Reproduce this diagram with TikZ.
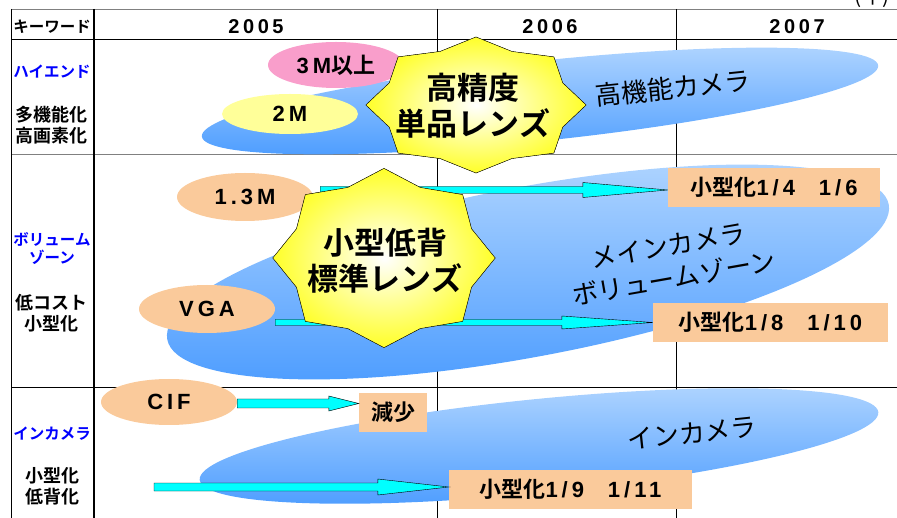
\documentclass[tikz,border=0pt]{standalone}
\usepackage{fontspec}
\setmainfont{Noto Sans CJK JP}[BoldFont={Noto Sans CJK JP Bold}]
\newfontfamily\lat{Liberation Sans}[LetterSpace=18]
\usetikzlibrary{shapes.geometric,calc}

\definecolor{peach}{RGB}{250,202,155}
\definecolor{rosepink}{RGB}{249,158,203}
\definecolor{paleyellow}{RGB}{255,255,153}
\definecolor{bandtop}{RGB}{178,214,255}
\definecolor{bandbot}{RGB}{74,155,255}
\definecolor{burstyellow}{RGB}{255,255,40}
\definecolor{keyblue}{RGB}{0,0,255}
\definecolor{arrowcyan}{RGB}{0,255,255}

\newcommand\num[1]{{\lat #1}}
% from, to, shaft half, head half, head length
\newcommand\blockarrow[5]{%
  \filldraw[fatarrow] let \p1=(#1), \p2=(#2) in
    (\x1,{\y2+#3}) -- ({\x2-#5},{\y2+#3}) -- ({\x2-#5},{\y2+#4}) -- (\p2)
    -- ({\x2-#5},{\y2-#4}) -- ({\x2-#5},{\y2-#3}) -- (\x1,{\y2-#3}) -- cycle;}

\tikzset{
  keyword/.style={font=\bfseries\fontsize{18}{21}\selectfont, align=center},
  kana/.style={keyword, font=\bfseries\fontsize{15.5}{18}\selectfont},
  keyblue/.style={kana, text=keyblue},
  year/.style={font=\bfseries\fontsize{20}{22}\selectfont},
  blueband/.style={ellipse, inner sep=0pt, top color=bandtop, bottom color=bandbot},
  bandtext/.style={font=\fontsize{26}{33}\selectfont, align=center},
  blob/.style={ellipse, inner sep=0pt, minimum width=136pt, font=\bfseries\fontsize{22}{24}\selectfont},
  ratebox/.style={rectangle, fill=peach, inner sep=0pt, minimum height=39pt, font=\bfseries\fontsize{22}{24}\selectfont},
  burst/.style={draw=black, thin, inner color=white, outer color=burstyellow},
  burstlabel/.style={font=\bfseries\fontsize{31}{36}\selectfont, align=center},
  fatarrow/.style={fill=arrowcyan, draw=black, thin},
}

\begin{document}
\begin{tikzpicture}[x=1pt,y=-1pt]
\useasboundingbox (0,0) rectangle (897,518);
\clip (0,0) rectangle (897,518);

% table
\draw[gray] (11,9) -- (897,9);
\draw (11,39) -- (897,39);
\draw[gray,line width=1pt] (11,155) -- (897,155);
\draw (11,387) -- (897,387);
\draw (11,9) -- (11,518);
\draw[line width=1.2pt] (94,9) -- (94,518);
\draw (437,9) -- (437,518);
\draw (676,9) -- (676,518);

\node[font=\fontsize{21}{22}\selectfont] (unit) at (872,-3) {(年)};

\node[kana] (kw) at (52,27) {キーワード};
\node[year] (y5) at (256,27) {\num{2005}};
\node[year] (y6) at (550,27) {\num{2006}};
\node[year] (y7) at (797,27) {\num{2007}};

\node[keyblue] (k1) at (52,72) {ハイエンド};
\node[keyword] (k1b) at (52,125) {多機能化\\高画素化};
\node[keyblue] (k2) at (52,249) {ボリューム\\ゾーン};
\node[keyword] (k2b) at (52,313) {低コスト\\小型化};
\node[keyblue] (k3) at (52,434) {インカメラ};
\node[keyword] (k3b) at (52,486) {小型化\\低背化};

% bands
\node[blueband, minimum width=680pt, minimum height=80pt, rotate=6] (hiband) at (540,101) {};
\node[blueband, minimum width=734pt, minimum height=170pt, rotate=10.6] (mainband) at (528,272) {};
\node[blueband, minimum width=682pt, minimum height=94pt, rotate=5.7] (inband) at (539,446) {};

\node[bandtext, rotate=6] (hitext) at (673,88) {高機能カメラ};
\node[bandtext, rotate=10] (maintext) at (671,262) {メインカメラ\\ボリュームゾーン};
\node[bandtext, rotate=6] (intext) at (692,433) {インカメラ};

% pixel counts
\node[blob, fill=rosepink, minimum height=46pt] (m3) at (336,65) {\num{3M}以上};
\node[blob, fill=paleyellow, minimum height=40pt] (m2) at (290,114) {\num{2M}};
\node[blob, fill=peach, minimum height=48pt] (m13) at (245,197) {\num{1.3M}};
\node[blob, fill=peach, minimum height=48pt] (vga) at (207,309) {\num{VGA}};
\node[blob, fill=peach, minimum height=46pt] (cif) at (169,402) {\num{CIF}};

\node[ratebox, minimum width=212pt] (r14) at (774,187.5) {小型化\num{1/4}\hspace{24pt}\num{1/6}};
\node[ratebox, minimum width=235pt] (r18) at (770.5,322.5) {小型化\num{1/8}\hspace{24pt}\num{1/10}};
\node[ratebox, minimum width=68pt] (less) at (393,412.5) {減少};
\node[ratebox, minimum width=243pt] (r19) at (570.5,489) {小型化\num{1/9}\hspace{24pt}\num{1/11}};

\coordinate (lowstart) at (154,487);

\blockarrow{[xshift=7pt]m13.east}{[yshift=-2.5pt]r14.west}{3.5}{7.5}{85}
\blockarrow{vga.east}{r18.west}{3}{6.5}{91}
\blockarrow{cif.east}{[yshift=9pt]less.west}{4.5}{7.5}{30}
\blockarrow{lowstart}{[yshift=2pt]r19.west}{4}{8}{71}

% lenses
\filldraw[burst] plot[samples at={0,22.5,...,337.5}]
  ({476+102*cos(\x)*(1+0.08*cos(8*\x))},{105+63*sin(\x)*(1+0.08*cos(8*\x))}) -- cycle;
\filldraw[burst] plot[samples at={0,22.5,...,337.5}]
  ({384+103*cos(\x)*(1+0.08*cos(8*\x))},{258+83*sin(\x)*(1+0.08*cos(8*\x))}) -- cycle;
\node[burstlabel] (hilens) at (473,106) {高精度\\単品レンズ};
\node[burstlabel] (stdlens) at (385,261) {小型低背\\標準レンズ};
\end{tikzpicture}
\end{document}
